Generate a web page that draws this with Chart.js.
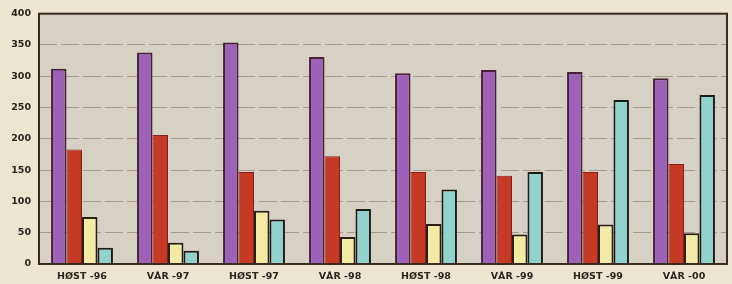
<!DOCTYPE html>
<html>
<head>
<meta charset="utf-8">
<script src="https://cdn.jsdelivr.net/npm/chart.js@4/dist/chart.umd.min.js"></script>
<style>
  html, body { margin: 0; padding: 0; background: #ece5d1; }
  #wrap { width: 732px; height: 284px; position: relative; }
</style>
</head>
<body>
<div id="wrap"><canvas id="c" width="732" height="284"></canvas></div>
<script>
const categories = ["HØST -96", "VÅR -97", "HØST -97", "VÅR -98", "HØST -98", "VÅR -99", "HØST -99", "VÅR -00"];
const seriesPurple = [312, 338, 354, 331, 305, 310, 307, 297];
const seriesRed    = [183, 206, 147, 172, 147, 141, 147, 160];
const seriesYellow = [75, 34, 85, 43, 64, 47, 63, 49];
const seriesCyan   = [26, 21, 71, 88, 119, 147, 262, 270];
const yTicks = [0, 50, 100, 150, 200, 250, 300, 350, 400];

const plotBg = {
  id: 'plotBg',
  beforeDraw(chart) {
    const {ctx, chartArea: a} = chart;
    ctx.save();
    ctx.fillStyle = '#d7d1c5';
    ctx.fillRect(a.left, a.top, a.right - a.left, a.bottom - a.top);
    ctx.restore();
  },
  afterDraw(chart) {
    const {ctx, chartArea: a} = chart;
    ctx.save();
    ctx.strokeStyle = '#3b2a22';
    ctx.lineWidth = 2;
    ctx.strokeRect(a.left, a.top, a.right - a.left, a.bottom - a.top);
    ctx.restore();
  }
};

new Chart(document.getElementById('c'), {
  type: 'bar',
  data: {
    labels: categories,
    datasets: [
      { data: seriesPurple, backgroundColor: '#9d62b8', borderColor: '#4a2038', borderWidth: 2 },
      { data: seriesRed, backgroundColor: '#c43a24', borderColor: '#8a1e18', borderWidth: 1 },
      { data: seriesYellow, backgroundColor: '#f3eaa4', borderColor: '#2a2018', borderWidth: 2 },
      { data: seriesCyan, backgroundColor: '#92d2cc', borderColor: '#1e1a16', borderWidth: 2 }
    ]
  },
  options: {
    responsive: false,
    animation: false,
    layout: { padding: { top: 13, right: 5, left: 0, bottom: 0 } },
    plugins: { legend: { display: false }, tooltip: { enabled: false } },
    datasets: { bar: { categoryPercentage: 0.72, barPercentage: 1.0, borderSkipped: 'bottom' } },
    scales: {
      x: {
        grid: { display: false, drawTicks: false },
        border: { display: false },
        ticks: { color: '#2a2420', font: { family: 'DejaVu Sans', size: 9.5, weight: 'bold' }, padding: 7, maxRotation: 0 },
        afterFit(s) { s.height = 20; }
      },
      y: {
        min: 0, max: 400,
        afterBuildTicks(s) { s.ticks = yTicks.map(v => ({ value: v })); },
        grid: { color: 'rgba(115,100,85,0.5)', lineWidth: 1, drawTicks: false },
        border: { display: false, dash: [18, 4] },
        ticks: { color: '#2a2420', font: { family: 'DejaVu Sans', size: 9.5, weight: 'bold' }, padding: 8 },
        afterFit(s) { s.width = 39; }
      }
    }
  },
  plugins: [plotBg]
});
</script>
</body>
</html>
